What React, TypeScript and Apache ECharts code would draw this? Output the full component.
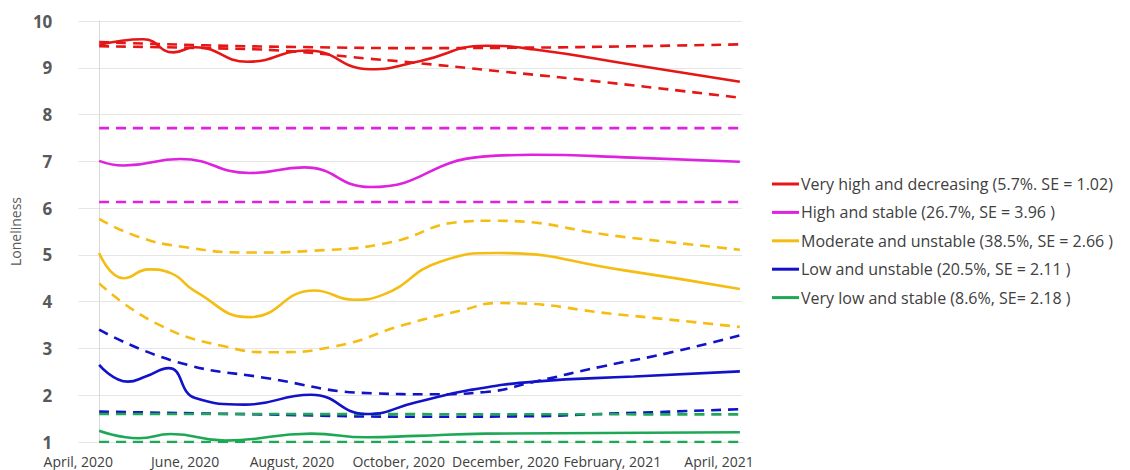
import React, { useEffect, useRef } from "react";
import * as echarts from "echarts";

type P = [number, number];

// x = months since April 2020
const xLabels = ["April, 2020", "June, 2020", "August, 2020", "October, 2020", "December, 2020", "February, 2021", "April, 2021"];
const yMin = 1;
const yMax = 10;

const seriesNames = [
  "Very high and decreasing (5.7%. SE = 1.02)",
  "High and stable (26.7%, SE = 3.96 )",
  "Moderate and unstable (38.5%, SE = 2.66 )",
  "Low and unstable (20.5%, SE = 2.11 )",
  "Very low and stable (8.6%, SE= 2.18 )",
];
const colors = ["#E51616", "#DE22DE", "#F5BD12", "#1212C8", "#1EA855"];

const redMean: P[] = [[0, 9.49], [0.83, 9.61], [1.39, 9.33], [1.8, 9.44], [2.78, 9.13], [3.9, 9.37], [5.08, 8.97], [6.0, 9.14], [7.24, 9.47], [8.16, 9.39], [10.02, 9.06], [12, 8.7]];
const redUpper: P[] = [[0, 9.55], [2, 9.48], [4, 9.44], [6, 9.42], [8, 9.43], [10, 9.46], [12, 9.5]];
const redLower: P[] = [[0, 9.46], [2, 9.42], [3.5, 9.36], [5, 9.2], [5.7, 9.13], [7.55, 8.92], [9.4, 8.7], [12, 8.36]];

const magMean: P[] = [[0, 7.01], [0.46, 6.91], [1.52, 7.05], [2.82, 6.75], [3.84, 6.87], [5.08, 6.45], [7.18, 7.1], [8.1, 7.14], [10, 7.08], [12, 6.99]];
const magUpper: P[] = [[0, 7.71], [12, 7.71]];
const magLower: P[] = [[0, 6.13], [12, 6.13]];

const yelMean: P[] = [[0, 5.04], [0.46, 4.5], [0.93, 4.69], [1.34, 4.61], [1.8, 4.22], [2.82, 3.67], [4.03, 4.24], [4.77, 4.04], [5.32, 4.15], [6.4, 4.86], [7.46, 5.04], [9.78, 4.68], [12, 4.27]];
const yelUpper: P[] = [[0, 5.77], [0.7, 5.4], [1.52, 5.18], [2.82, 5.05], [4.03, 5.09], [5.42, 5.26], [6.81, 5.71], [7.37, 5.73], [9.78, 5.39], [12, 5.11]];
const yelLower: P[] = [[0, 4.39], [1.06, 3.54], [2.36, 3.04], [3.28, 2.92], [4.4, 3.04], [5.7, 3.5], [6.81, 3.82], [7.46, 3.97], [9.78, 3.72], [12, 3.46]];

const bluMean: P[] = [[0, 2.65], [0.54, 2.29], [0.87, 2.4], [1.3, 2.58], [1.8, 1.94], [2.73, 1.8], [3.97, 2.01], [5.01, 1.6], [5.94, 1.85], [6.94, 2.11], [8.16, 2.29], [10.02, 2.4], [12, 2.51]];
const bluUpper: P[] = [[0, 3.4], [1.43, 2.72], [3.12, 2.37], [5.14, 2.04], [6.2, 2.02], [7.24, 2.07], [8.16, 2.29], [9.4, 2.61], [10.65, 2.9], [12, 3.28]];
const bluLower: P[] = [[0, 1.65], [3, 1.59], [6, 1.54], [8, 1.55], [9.4, 1.6], [12, 1.7]];

const grnMean: P[] = [[0, 1.24], [0.74, 1.08], [1.34, 1.17], [2.36, 1.03], [3.97, 1.18], [5.01, 1.1], [5.94, 1.13], [7.24, 1.18], [12, 1.21]];
const grnUpper: P[] = [[0, 1.6], [12, 1.59]];
const grnLower: P[] = [[0, 1.0], [12, 1.0]];

const means = [redMean, magMean, yelMean, bluMean, grnMean];
const uppers = [redUpper, magUpper, yelUpper, bluUpper, grnUpper];
const lowers = [redLower, magLower, yelLower, bluLower, grnLower];

const FONT = "'Open Sans', sans-serif";

export default function App() {
  const ref = useRef<HTMLDivElement>(null);
  useEffect(() => {
    if (!ref.current) return;
    const chart = echarts.init(ref.current, undefined, { renderer: "svg" });
    const series: any[] = [];
    for (let i = 0; i < 5; i++) {
      const dashStyle = { color: colors[i], width: 2.6, type: [10, 7] as any };
      series.push({
        name: seriesNames[i] + " upper",
        type: "line",
        xAxisIndex: 0,
        data: uppers[i],
        smooth: 0.5,
        showSymbol: false,
        lineStyle: dashStyle,
        itemStyle: { color: colors[i] },
        z: 1,
      });
      series.push({
        name: seriesNames[i] + " lower",
        type: "line",
        xAxisIndex: 0,
        data: lowers[i],
        smooth: 0.5,
        showSymbol: false,
        lineStyle: dashStyle,
        itemStyle: { color: colors[i] },
        z: 1,
      });
    }
    for (let i = 0; i < 5; i++) {
      series.push({
        name: seriesNames[i],
        type: "line",
        xAxisIndex: 0,
        data: means[i],
        smooth: 0.5,
        showSymbol: false,
        lineStyle: { color: colors[i], width: 2.6 },
        itemStyle: { color: colors[i] },
        z: 2,
      });
    }
    chart.setOption({
      animation: false,
      backgroundColor: "#ffffff",
      grid: { left: 72, right: 388, top: 21, bottom: 28, containLabel: false },
      legend: {
        data: seriesNames,
        orient: "vertical",
        left: 772,
        top: 174,
        padding: 0,
        icon: "rect",
        itemWidth: 27,
        itemHeight: 3,
        itemGap: 8.4,
        textStyle: { fontSize: 16, color: "#404040", fontFamily: FONT, lineHeight: 20, padding: [0, 0, 0, -3] },
      },
      xAxis: [
        {
          type: "value",
          min: -0.39,
          max: 12.04,
          show: false,
        },
        {
          type: "value",
          min: 0,
          max: 12.43,
          interval: 2,
          position: "bottom",
          axisLine: { show: false },
          axisTick: { show: false },
          splitLine: { show: false },
          axisLabel: {
            showMaxLabel: false,
            margin: 12,
            fontSize: 14,
            lineHeight: 15,
            color: "#404040",
            fontFamily: FONT,
            formatter: (v: number) => xLabels[Math.round(v / 2)] ?? "",
          },
        },
      ],
      yAxis: {
        type: "value",
        min: yMin,
        max: yMax,
        interval: 1,
        name: "Loneliness",
        nameLocation: "middle",
        nameGap: 50,
        nameTextStyle: { fontSize: 14, color: "#595959", fontFamily: FONT },
        axisLine: { show: true, lineStyle: { color: "#D9D9D9", width: 1 } },
        axisTick: { show: false },
        splitLine: { show: true, lineStyle: { color: "#E6E6E6", width: 1 } },
        axisLabel: { margin: 26, fontSize: 17, lineHeight: 15, fontWeight: "bold", color: "#595959", fontFamily: FONT },
      },
      series,
    });
    return () => chart.dispose();
  }, []);
  return <div ref={ref} style={{ position: "fixed", left: 0, top: 0, width: 1130, height: 470 }} />;
}
